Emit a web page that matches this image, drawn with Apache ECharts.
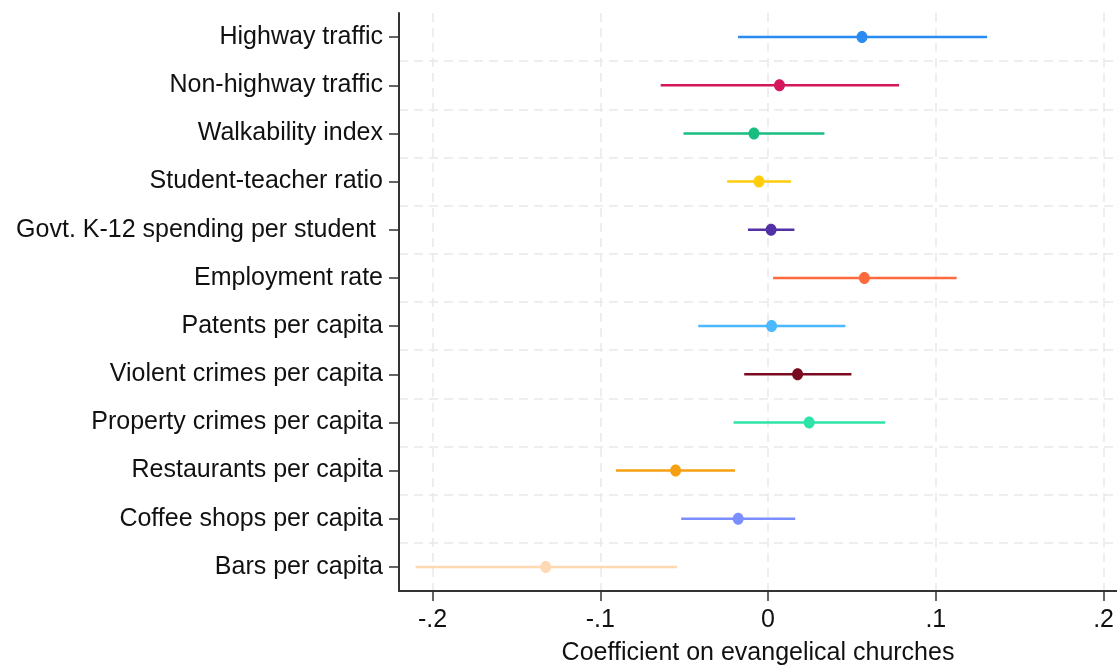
<!DOCTYPE html>
<html>
<head>
<meta charset="utf-8">
<script src="https://cdn.jsdelivr.net/npm/echarts@6/dist/echarts.min.js"></script>
<style>
  html, body { margin: 0; padding: 0; background: #fff; }
  #chart { width: 1117px; height: 671px; }
</style>
</head>
<body>
<div id="chart"></div>
<script>
// Outcome variables, listed top to bottom
const categories = [
  'Highway traffic',
  'Non-highway traffic',
  'Walkability index',
  'Student-teacher ratio',
  'Govt. K-12 spending per student ',
  'Employment rate',
  'Patents per capita',
  'Violent crimes per capita',
  'Property crimes per capita',
  'Restaurants per capita',
  'Coffee shops per capita',
  'Bars per capita'
];

// Point estimates and confidence bounds
const estimates = [0.056, 0.0068, -0.0084, -0.0054, 0.0018, 0.0574, 0.0021, 0.0176, 0.0245, -0.0551, -0.0178, -0.1325];
const ciLow     = [-0.0179, -0.064, -0.0504, -0.0244, -0.012, 0.003, -0.0416, -0.0142, -0.0206, -0.0907, -0.0518, -0.2101];
const ciHigh    = [0.1306, 0.0781, 0.0336, 0.0137, 0.0157, 0.1124, 0.0461, 0.0497, 0.0698, -0.0197, 0.0162, -0.0542];

// Tick positions on the coefficient axis
const xTicks = [-0.2, -0.1, 0, 0.1, 0.2];

// One colour per outcome
const palette = ['#2a8cf2', '#d4175c', '#18be80', '#ffcd0a', '#5231a6', '#ff6a3c',
                 '#4cb8ff', '#7a0a1f', '#2de4a8', '#f5a013', '#7b8eff', '#ffd8b4'];

const rows = categories.map((c, i) => [i, ciLow[i], ciHigh[i], estimates[i]]);

const fontFamily = '"Liberation Sans", Arial, sans-serif';
const labelSize = 25;

function fmtTick(v) {
  if (Math.abs(v) < 1e-9) return '0';
  const s = (Math.round(v * 10) / 10).toString();
  return s.replace('0.', '.');
}

const chart = echarts.init(document.getElementById('chart'), null, { renderer: 'canvas' });

chart.setOption({
  animation: false,
  backgroundColor: '#ffffff',
  grid: { left: 399, right: 0, top: 13, bottom: 78, containLabel: false },
  xAxis: {
    type: 'value',
    min: -0.22,
    max: 0.208,
    axisLine: { show: true, onZero: false, lineStyle: { color: '#333', width: 2 } },
    axisTick: { show: true, length: 10, customValues: xTicks, lineStyle: { color: '#333', width: 1.5 } },
    axisLabel: {
      customValues: xTicks,
      formatter: fmtTick,
      fontSize: labelSize, color: '#111', fontFamily: fontFamily, margin: 17
    },
    splitLine: {
      show: true,
      lineStyle: { color: '#e9e9e9', width: 1.5, type: [9, 6] }
    },
    name: 'Coefficient on evangelical churches',
    nameLocation: 'middle',
    nameGap: 50,
    nameTextStyle: { fontSize: labelSize, color: '#111', fontFamily: fontFamily }
  },
  yAxis: {
    type: 'category',
    inverse: true,
    data: categories,
    axisLine: { show: true, onZero: false, lineStyle: { color: '#333', width: 2 } },
    axisTick: { show: true, alignWithLabel: true, length: 10, lineStyle: { color: '#333', width: 1.5 } },
    axisLabel: { fontSize: labelSize, color: '#111', fontFamily: fontFamily, margin: 16 },
    splitLine: {
      show: true,
      showMinLine: false,
      showMaxLine: false,
      lineStyle: { color: '#e9e9e9', width: 1.5, type: [9, 6] }
    }
  },
  series: [{
    type: 'custom',
    data: rows,
    encode: { x: [1, 2, 3], y: 0 },
    renderItem: function (params, api) {
      const idx = api.value(0);
      const lo = api.coord([api.value(1), idx]);
      const hi = api.coord([api.value(2), idx]);
      const pt = api.coord([api.value(3), idx]);
      const color = palette[params.dataIndex];
      return {
        type: 'group',
        children: [
          {
            type: 'line',
            shape: { x1: lo[0], y1: lo[1], x2: hi[0], y2: hi[1] },
            style: { stroke: color, lineWidth: 2.5 }
          },
          {
            type: 'ellipse',
            shape: { cx: pt[0], cy: pt[1], rx: 5.5, ry: 6 },
            style: { fill: color }
          }
        ]
      };
    }
  }]
});
</script>
</body>
</html>
